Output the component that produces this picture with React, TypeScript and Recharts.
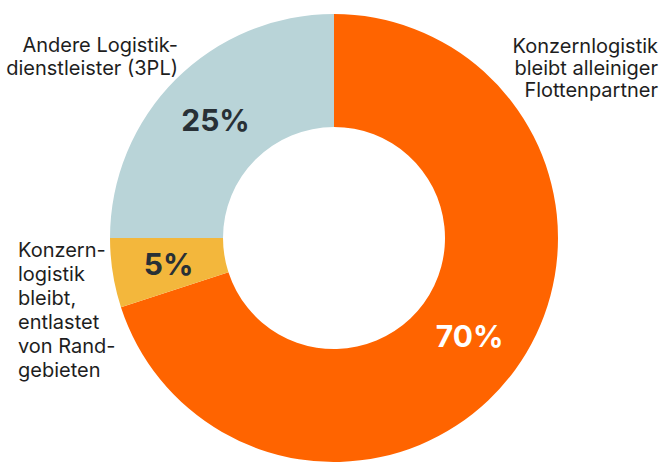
import { PieChart, Pie, Cell } from "recharts";

// Anteile der Flottenlogistik
const segments = [
  "Konzernlogistik bleibt alleiniger Flottenpartner",
  "Konzernlogistik bleibt, entlastet von Randgebieten",
  "Andere Logistikdienstleister (3PL)",
];
const shares = [70, 5, 25];
const labelLines = [
  ["Konzernlogistik", "bleibt alleiniger", "Flottenpartner"],
  ["Konzern-", "logistik", "bleibt,", "entlastet", "von Rand-", "gebieten"],
  ["Andere Logistik-", "dienstleister (3PL)"],
];

const colors = ["#FF6400", "#F3B73C", "#B9D4D8"];
const pctColors = ["#ffffff", "#283036", "#283036"];
// where the outer name labels sit
const nameLayout = [
  { x: 658, y: 53, anchor: "end", lh: 22 },
  { x: 18, y: 257, anchor: "start", lh: 24 },
  { x: 178, y: 52, anchor: "end", lh: 23 },
];

const data = segments.map((name, i) => ({ name, value: shares[i] }));

const RAD = Math.PI / 180;

function renderLabel(props: any) {
  const { cx, cy, midAngle, innerRadius, outerRadius, index, value } = props;
  const r = (innerRadius + outerRadius) / 2;
  const x = cx + r * Math.cos(-midAngle * RAD);
  const y = cy + r * Math.sin(-midAngle * RAD);
  const nl = nameLayout[index];
  return (
    <g>
      <text
        x={x}
        y={y}
        textAnchor="middle"
        dominantBaseline="central"
        fill={pctColors[index]}
        fontSize={30}
        fontWeight={700}
        fontFamily="Inter"
      >
        {value}%
      </text>
      <text
        x={nl.x}
        y={nl.y}
        textAnchor={nl.anchor}
        fill="#1e1e1e"
        fontSize={20}
        fontFamily="Inter"
      >
        {labelLines[index].map((line, j) => (
          <tspan key={j} x={nl.x} y={nl.y + j * nl.lh}>
            {line}
          </tspan>
        ))}
      </text>
    </g>
  );
}

export default function App() {
  return (
    <div style={{ position: "absolute", left: 0, top: 0, width: 662, height: 462, background: "#fff" }}>
      <PieChart width={662} height={462} margin={{ top: 0, right: 0, bottom: 0, left: 0 }}>
        <Pie
          data={data}
          dataKey="value"
          nameKey="name"
          cx={334}
          cy={238}
          innerRadius={111}
          outerRadius={224}
          startAngle={90}
          endAngle={-270}
          stroke="none"
          labelLine={false}
          label={renderLabel}
          isAnimationActive={false}
        >
          {data.map((d, i) => (
            <Cell key={d.name} fill={colors[i]} />
          ))}
        </Pie>
      </PieChart>
    </div>
  );
}
